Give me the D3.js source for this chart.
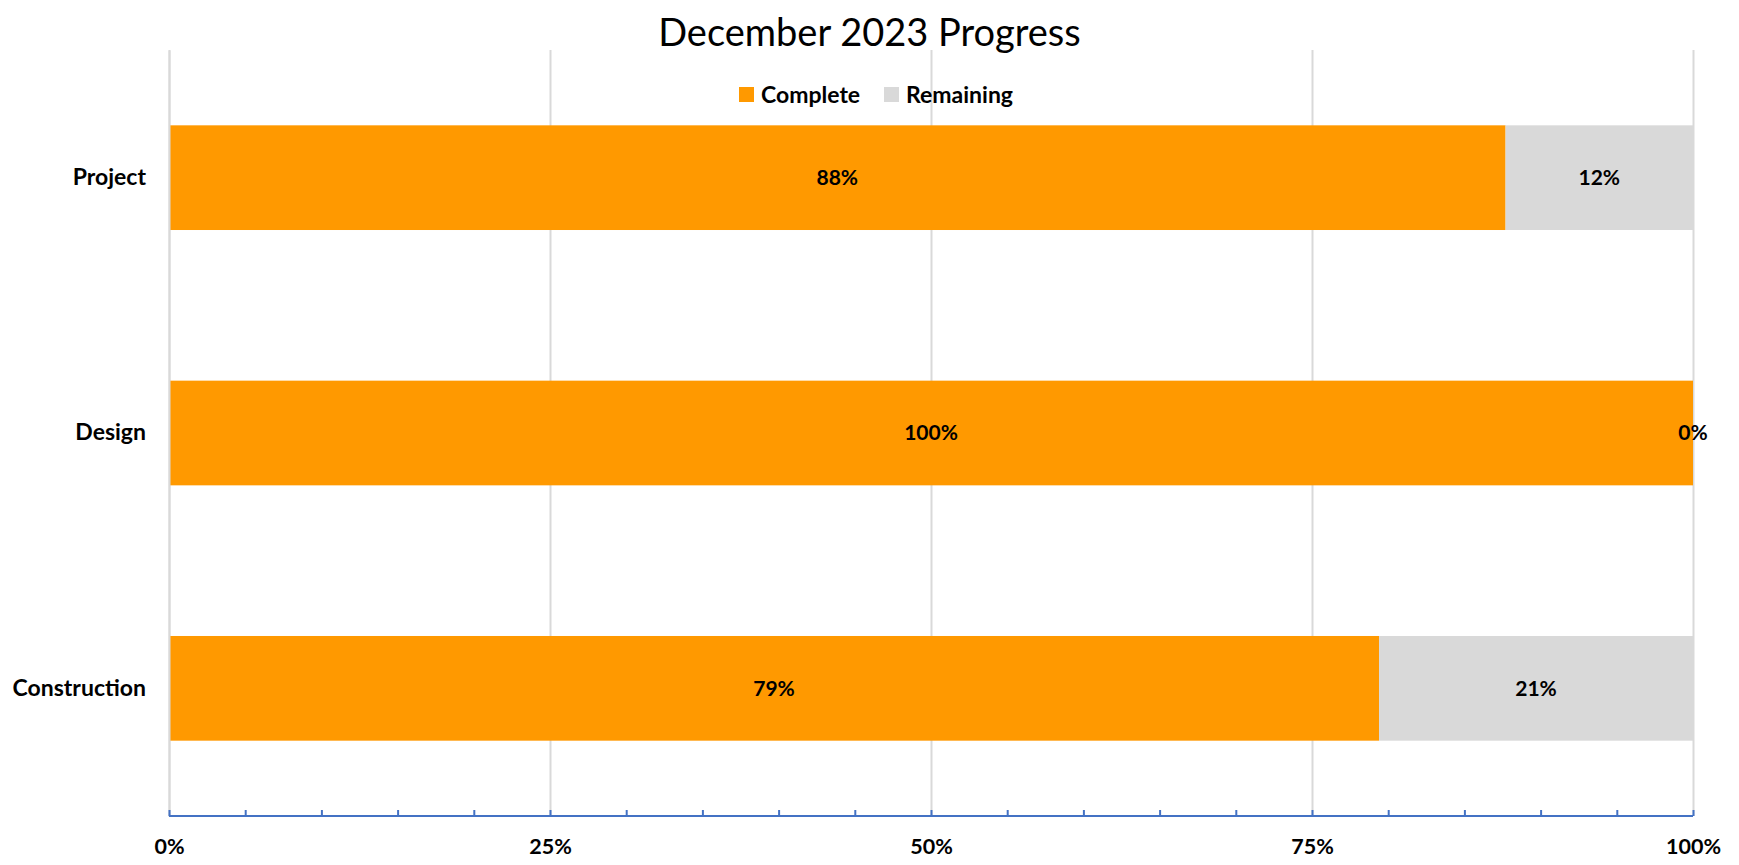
<!DOCTYPE html>
<html>
<head>
<meta charset="utf-8">
<script src="https://cdn.jsdelivr.net/npm/d3@7"></script>
<style>
  body { margin: 0; background: #fff; }
  text { font-family: Lato, "Open Sans", sans-serif; }
</style>
</head>
<body>
<div class="chart"></div>
<script>
var svgWidth = 1739;
var svgHeight = 865;

var margin = { top: 50, right: 46, bottom: 49, left: 169 };
var width = svgWidth - margin.left - margin.right;
var height = svgHeight - margin.top - margin.bottom;

// Data
var categories = ["Project", "Design", "Construction"];
var complete = [0.877, 1.00, 0.794];
var remaining = [0.123, 0.00, 0.206];
var seriesNames = ["Complete", "Remaining"];
var seriesColors = ["#FF9900", "#D9D9D9"];
var majorTicks = [0, 0.25, 0.5, 0.75, 1];

var svg = d3.select(".chart")
    .append("svg")
    .attr("width", svgWidth)
    .attr("height", svgHeight);

var chartGroup = svg.append("g")
    .attr("transform", `translate(${margin.left}, ${margin.top})`);

// scales
var xScale = d3.scaleLinear().domain([0, 1]).range([0, width]);
var yScale = d3.scaleBand().domain(categories).range([0, height]).paddingInner(0.59).paddingOuter(0.295);

// gridlines
chartGroup.append("g")
    .call(d3.axisBottom(xScale).tickValues(majorTicks).tickSize(height).tickFormat(""))
    .call(g => g.select(".domain").remove())
    .call(g => g.selectAll("line").attr("stroke", "#D9D9D9").attr("stroke-width", 2));

// stacked bars
var rows = categories.map((c, i) => ({ cat: c, complete: complete[i], remaining: remaining[i] }));
var stack = d3.stack().keys(["complete", "remaining"])(rows);

var layers = chartGroup.selectAll(".layer")
    .data(stack)
    .enter()
    .append("g")
    .attr("fill", (d, i) => seriesColors[i]);

layers.selectAll("rect")
    .data(d => d)
    .enter()
    .append("rect")
    .attr("x", d => xScale(d[0]))
    .attr("y", d => yScale(d.data.cat))
    .attr("width", d => xScale(d[1]) - xScale(d[0]))
    .attr("height", yScale.bandwidth());

// data labels
layers.selectAll("text")
    .data(d => d)
    .enter()
    .append("text")
    .attr("x", d => xScale((d[0] + d[1]) / 2))
    .attr("y", d => yScale(d.data.cat) + yScale.bandwidth() / 2)
    .attr("dy", "0.35em")
    .attr("text-anchor", "middle")
    .attr("fill", "#000")
    .style("font-size", "21px")
    .style("font-weight", "bold")
    .text(d => Math.round((d[1] - d[0]) * 100) + "%");

// y axis labels
chartGroup.append("g")
    .call(d3.axisLeft(yScale).tickSize(0).tickPadding(23))
    .call(g => g.select(".domain").attr("stroke", "#D9D9D9").attr("stroke-width", 2))
    .call(g => g.selectAll("text").attr("fill", "#000").style("font-size", "23px").style("font-weight", "bold").style("font-family", "Lato, sans-serif"));

// x axis: minor ticks pointing up
chartGroup.append("g")
    .attr("transform", `translate(0, ${height})`)
    .call(d3.axisBottom(xScale).tickValues(d3.range(0, 21).map(i => i / 20)).tickSize(-6).tickFormat(""))
    .call(g => g.select(".domain").attr("d", `M0,0H${width}`).attr("stroke", "#4472C4").attr("stroke-width", 2))
    .call(g => g.selectAll("line").attr("stroke", "#4472C4").attr("stroke-width", 2));

// x axis labels
chartGroup.append("g")
    .attr("transform", `translate(0, ${height})`)
    .call(d3.axisBottom(xScale).tickValues(majorTicks).tickSize(0).tickPadding(23).tickFormat(d3.format(".0%")))
    .call(g => g.select(".domain").remove())
    .call(g => g.selectAll("text").attr("fill", "#000").style("font-size", "21.5px").style("font-weight", "bold").style("font-family", "Lato, sans-serif"));

// title
svg.append("text")
    .attr("x", svgWidth / 2)
    .attr("y", 46)
    .attr("text-anchor", "middle")
    .style("font-size", "38px")
    .text("December 2023 Progress");

// legend
var legend = svg.append("g").attr("transform", "translate(739, 95)");
var legendX = [0, 145];
seriesNames.forEach(function(name, i) {
    var item = legend.append("g").attr("transform", `translate(${legendX[i]}, 0)`);
    item.append("rect")
        .attr("x", 0).attr("y", -8)
        .attr("width", 15).attr("height", 15)
        .attr("fill", seriesColors[i]);
    item.append("text")
        .attr("x", 22)
        .attr("dy", "0.35em")
        .style("font-size", "23px")
        .style("font-weight", "bold")
        .text(name);
});
</script>
</body>
</html>
